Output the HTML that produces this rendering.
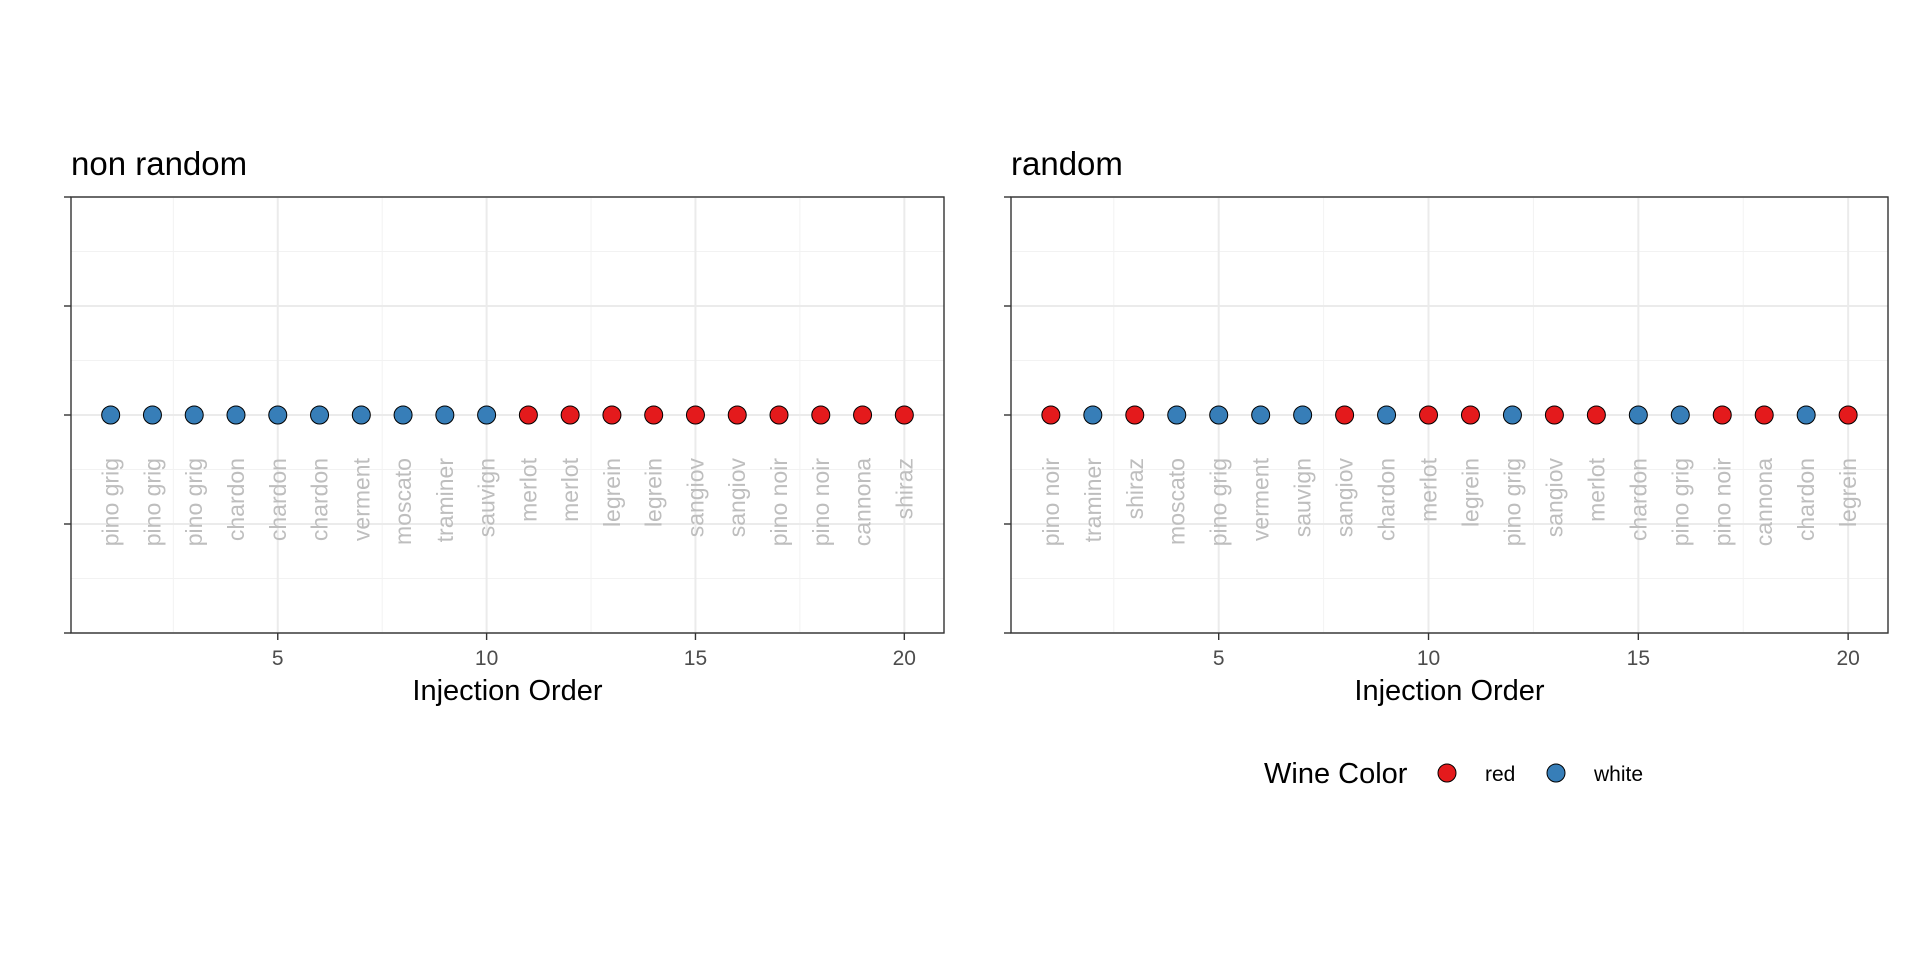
<!DOCTYPE html>
<html><head><meta charset="utf-8"><style>
html,body{margin:0;padding:0;background:#fff;}
svg{display:block;font-family:"Liberation Sans",Arial,sans-serif;}
</style></head><body>
<svg id="chart" width="1920" height="960" viewBox="0 0 1920 960"></svg>
<script>
const orders = [1,2,3,4,5,6,7,8,9,10,11,12,13,14,15,16,17,18,19,20];
const nonRandomWines = ["pino grig","pino grig","pino grig","chardon","chardon","chardon","verment","moscato","traminer","sauvign","merlot","merlot","legrein","legrein","sangiov","sangiov","pino noir","pino noir","cannona","shiraz"];
const nonRandomColors = ["white","white","white","white","white","white","white","white","white","white","red","red","red","red","red","red","red","red","red","red"];
const randomWines = ["pino noir","traminer","shiraz","moscato","pino grig","verment","sauvign","sangiov","chardon","merlot","legrein","pino grig","sangiov","merlot","chardon","pino grig","pino noir","cannona","chardon","legrein"];
const randomColors = ["red","white","red","white","white","white","white","red","white","red","red","white","red","red","white","white","red","red","white","red"];
const yValues = [0,0,0,0,0,0,0,0,0,0,0,0,0,0,0,0,0,0,0,0];
const xTicks = [5,10,15,20];
const xMinor = [2.5,7.5,12.5,17.5];
const yTicks = [-1,-0.5,0,0.5,1];
const yMinor = [-0.75,-0.25,0.25,0.75];
const legendKeys = ["red","white"];
const fillMap = {red:"#E41A1C", white:"#377EB8"};

const NS = "http://www.w3.org/2000/svg";
const svg = document.getElementById("chart");
function mk(tag, attrs, parent){const e=document.createElementNS(NS,tag);for(const k in attrs)e.setAttribute(k,attrs[k]);(parent||svg).appendChild(e);return e;}

function panel(L, R, title, wines, colors, nm){
  const T=197, B=633;
  const step = (R-L)/20.9;
  const xs = v => L + (v-0.05)*step;
  const ys = v => 415 - v*218;
  const g = mk("g",{});
  
  
  const t = mk("text",{x:L,y:175,"font-size":33,fill:"#000"},g); t.textContent=title;
  
  
  yMinor.forEach(v=>mk("line",{x1:L,x2:R,y1:ys(v),y2:ys(v),stroke:"#f2f2f2","stroke-width":1},g));
  xMinor.forEach(v=>mk("line",{x1:xs(v),x2:xs(v),y1:T,y2:B,stroke:"#f2f2f2","stroke-width":1},g));
  yTicks.forEach(v=>mk("line",{x1:L,x2:R,y1:ys(v),y2:ys(v),stroke:"#ebebeb","stroke-width":2},g));
  xTicks.forEach(v=>mk("line",{x1:xs(v),x2:xs(v),y1:T,y2:B,stroke:"#ebebeb","stroke-width":2},g));
  const border = mk("rect",{x:L,y:T,width:R-L,height:B-T,fill:"none",stroke:"#333","stroke-width":1.4},g);
  
  
  yTicks.forEach(v=>mk("line",{x1:L-7,x2:L,y1:ys(v),y2:ys(v),stroke:"#333","stroke-width":1.4},g));
  xTicks.forEach(v=>{
    mk("line",{x1:xs(v),x2:xs(v),y1:B,y2:B+7,stroke:"#333","stroke-width":1.4},g);
    const tl = mk("text",{x:xs(v),y:665,"font-size":21,fill:"#4d4d4d","text-anchor":"middle"},g);
    tl.textContent=v;
    
    
  });
  const at = mk("text",{x:(L+R)/2,y:700,"font-size":29,fill:"#000","text-anchor":"middle"},g);
  at.textContent="Injection Order";
  
  
  orders.forEach((o,i)=>{
    const lx = xs(o), ly = 458;
    const lb = mk("text",{x:lx,y:ly,"font-size":23,fill:"#bebebe","text-anchor":"end","dominant-baseline":"central",transform:`rotate(-90 ${lx} ${ly})`},g);
    lb.textContent = wines[i];
    
    
    const c = mk("circle",{cx:xs(o),cy:ys(yValues[i]),r:9,fill:fillMap[colors[i]],stroke:"#000","stroke-width":1},g);
    
    
  });
}
panel(71,944,"non random",nonRandomWines,nonRandomColors,"non-random");
panel(1011,1888,"random",randomWines,randomColors,"random");

const lg = mk("g",{});


const lt = mk("text",{x:1264,y:783,"font-size":29,fill:"#000"},lg);
lt.textContent="Wine Color";


const keyX = [1447,1556];
legendKeys.forEach((k,i)=>{
  const c = mk("circle",{cx:keyX[i],cy:773,r:9,fill:fillMap[k],stroke:"#000","stroke-width":1},lg);
  
  
  const t = mk("text",{x:keyX[i]+38,y:781,"font-size":21,fill:"#000"},lg);
  t.textContent=k;
  
  
});
</script>
</body></html>
